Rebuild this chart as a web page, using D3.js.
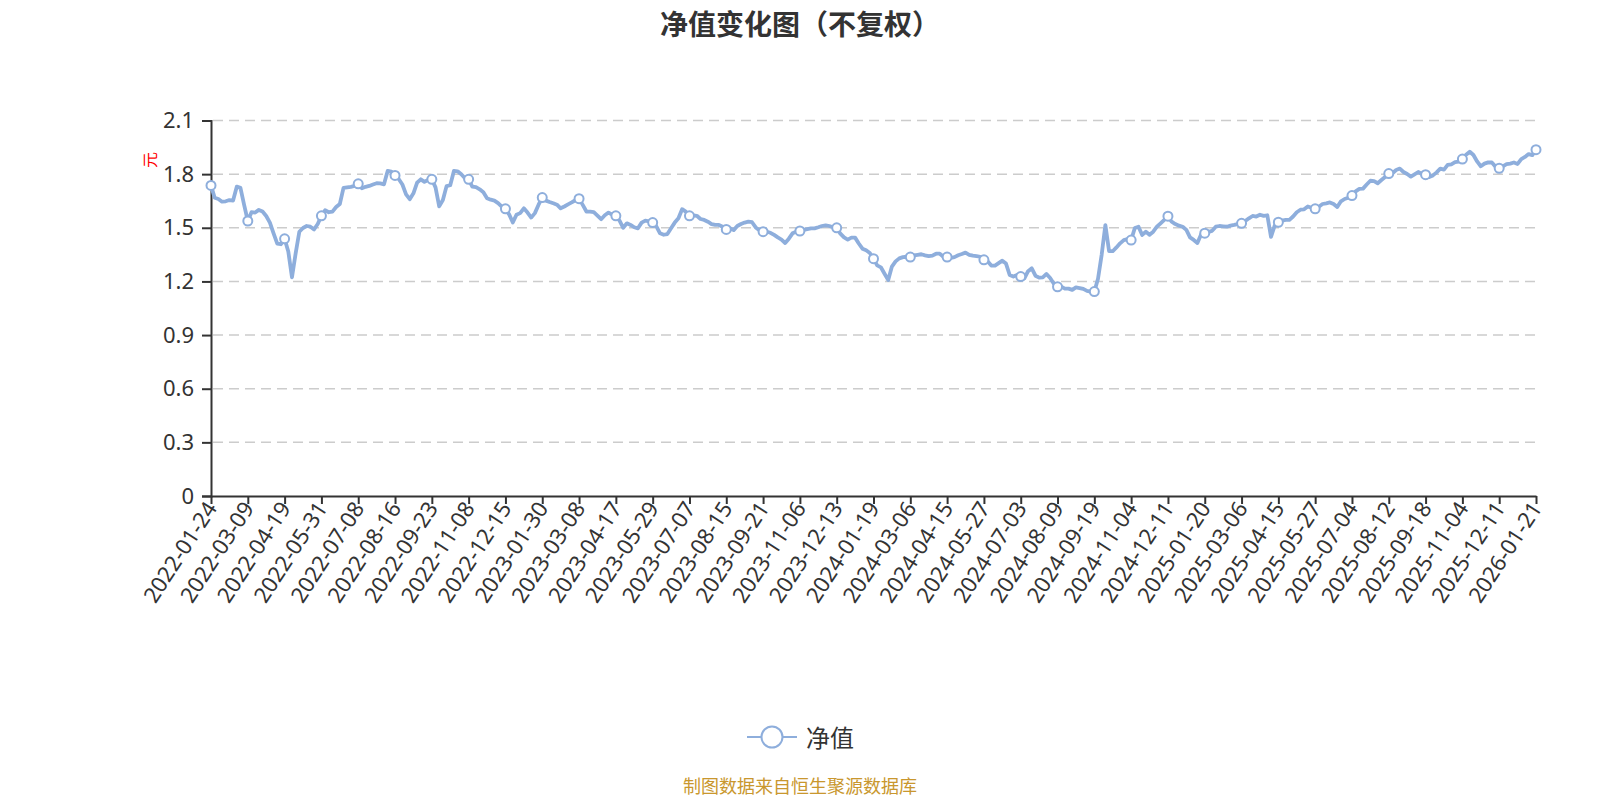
<!DOCTYPE html>
<html>
<head>
<meta charset="utf-8">
<script src="https://cdn.jsdelivr.net/npm/d3@7"></script>
<style>
  body { margin: 0; background: #fff; }
  text { font-family: "Noto Sans", "Noto Sans CJK SC", sans-serif; }
</style>
</head>
<body>
<script>
// Chart dimensions and margins.
const width = 1600;
const height = 800;
const margin = { top: 120.5, right: 64, bottom: 304, left: 211 };

// Axis labels shown under the chart (one every 10 samples).
const tickDates = [
    "2022-01-24", "2022-03-09", "2022-04-19", "2022-05-31", "2022-07-08", "2022-08-16",
    "2022-09-23", "2022-11-08", "2022-12-15", "2023-01-30", "2023-03-08", "2023-04-17",
    "2023-05-29", "2023-07-07", "2023-08-15", "2023-09-21", "2023-11-06", "2023-12-13",
    "2024-01-19", "2024-03-06", "2024-04-15", "2024-05-27", "2024-07-03", "2024-08-09",
    "2024-09-19", "2024-11-04", "2024-12-11", "2025-01-20", "2025-03-06", "2025-04-15",
    "2025-05-27", "2025-07-04", "2025-08-12", "2025-09-18", "2025-11-04", "2025-12-11",
    "2026-01-21"
];
const samplesPerLabel = 10;

// Net value readings, one row per label interval.
const navValues = [
    1.737, 1.668, 1.661, 1.646, 1.648, 1.655, 1.652, 1.730, 1.723, 1.628,
    1.538, 1.587, 1.585, 1.600, 1.591, 1.566, 1.529, 1.469, 1.412, 1.408,
    1.438, 1.367, 1.223, 1.357, 1.478, 1.499, 1.510, 1.506, 1.491, 1.521,
    1.567, 1.598, 1.587, 1.590, 1.616, 1.633, 1.723, 1.726, 1.729, 1.734,
    1.746, 1.721, 1.729, 1.734, 1.742, 1.749, 1.748, 1.743, 1.818, 1.814,
    1.793, 1.773, 1.742, 1.687, 1.660, 1.693, 1.752, 1.771, 1.757, 1.767,
    1.771, 1.726, 1.620, 1.655, 1.733, 1.738, 1.818, 1.816, 1.799, 1.777,
    1.771, 1.730, 1.727, 1.715, 1.699, 1.665, 1.657, 1.652, 1.638, 1.618,
    1.606, 1.575, 1.530, 1.573, 1.582, 1.609, 1.585, 1.557, 1.582, 1.629,
    1.669, 1.652, 1.644, 1.637, 1.629, 1.609, 1.619, 1.631, 1.642, 1.654,
    1.663, 1.628, 1.591, 1.590, 1.587, 1.568, 1.548, 1.570, 1.585, 1.573,
    1.567, 1.540, 1.500, 1.525, 1.516, 1.503, 1.497, 1.529, 1.540, 1.536,
    1.529, 1.508, 1.469, 1.461, 1.465, 1.497, 1.529, 1.553, 1.604, 1.590,
    1.567, 1.570, 1.567, 1.549, 1.544, 1.534, 1.521, 1.516, 1.516, 1.506,
    1.491, 1.497, 1.487, 1.510, 1.521, 1.529, 1.534, 1.531, 1.502, 1.486,
    1.478, 1.478, 1.472, 1.460, 1.446, 1.434, 1.415, 1.439, 1.469, 1.478,
    1.482, 1.488, 1.493, 1.497, 1.497, 1.503, 1.510, 1.514, 1.510, 1.503,
    1.500, 1.467, 1.446, 1.434, 1.445, 1.445, 1.412, 1.383, 1.374, 1.359,
    1.327, 1.290, 1.279, 1.243, 1.208, 1.283, 1.312, 1.329, 1.336, 1.338,
    1.336, 1.346, 1.349, 1.352, 1.346, 1.341, 1.344, 1.355, 1.355, 1.338,
    1.336, 1.331, 1.336, 1.346, 1.353, 1.361, 1.349, 1.344, 1.342, 1.338,
    1.321, 1.313, 1.289, 1.288, 1.302, 1.316, 1.300, 1.236, 1.227, 1.236,
    1.227, 1.217, 1.257, 1.273, 1.232, 1.221, 1.223, 1.242, 1.219, 1.187,
    1.170, 1.171, 1.160, 1.160, 1.153, 1.167, 1.163, 1.158, 1.147, 1.143,
    1.143, 1.215, 1.350, 1.515, 1.370, 1.369, 1.390, 1.413, 1.431, 1.437,
    1.431, 1.499, 1.506, 1.460, 1.478, 1.461, 1.478, 1.506, 1.525, 1.544,
    1.565, 1.534, 1.521, 1.512, 1.506, 1.488, 1.446, 1.432, 1.415, 1.463,
    1.470, 1.477, 1.483, 1.506, 1.510, 1.508, 1.506, 1.512, 1.516, 1.521,
    1.525, 1.538, 1.553, 1.566, 1.563, 1.573, 1.567, 1.570, 1.449, 1.512,
    1.531, 1.540, 1.544, 1.544, 1.563, 1.587, 1.601, 1.603, 1.619, 1.612,
    1.606, 1.618, 1.633, 1.637, 1.642, 1.633, 1.616, 1.648, 1.661, 1.668,
    1.680, 1.704, 1.718, 1.719, 1.742, 1.763, 1.761, 1.749, 1.767, 1.784,
    1.803, 1.805, 1.823, 1.831, 1.812, 1.801, 1.786, 1.799, 1.812, 1.801,
    1.797, 1.784, 1.793, 1.810, 1.831, 1.825, 1.852, 1.855, 1.867, 1.870,
    1.884, 1.909, 1.925, 1.907, 1.871, 1.844, 1.859, 1.866, 1.865, 1.842,
    1.833, 1.844, 1.856, 1.859, 1.865, 1.857, 1.884, 1.896, 1.912, 1.906,
    1.937
];

const yTicks = [0, 0.3, 0.6, 0.9, 1.2, 1.5, 1.8, 2.1];
const lineColor = "#8eaedc";
const textColor = "#333";

const svg = d3.select("body").append("svg")
    .attr("width", width)
    .attr("height", height)
    .style("display", "block");

const x = d3.scaleLinear()
    .domain([0, navValues.length - 1])
    .range([margin.left, width - margin.right]);

const y = d3.scaleLinear()
    .domain([0, 2.1])
    .range([height - margin.bottom, margin.top]);

// Title
svg.append("text")
    .attr("x", width / 2)
    .attr("y", 35)
    .attr("text-anchor", "middle")
    .attr("font-size", 28)
    .attr("font-weight", "bold")
    .attr("fill", textColor)
    .text("净值变化图（不复权）");

// Dashed grid lines
svg.append("g")
    .selectAll("line")
    .data(yTicks.filter(d => d > 0))
    .enter()
    .append("line")
    .attr("x1", margin.left + 2)
    .attr("x2", width - margin.right)
    .attr("y1", d => y(d))
    .attr("y2", d => y(d))
    .attr("stroke", "#ccc")
    .attr("stroke-width", 1.5)
    .attr("stroke-dasharray", "10,6");

// Y axis
const yAxis = svg.append("g")
    .attr("transform", `translate(${margin.left},0)`)
    .call(d3.axisLeft(y).tickValues(yTicks).tickFormat(d => d === 0 ? "0" : d3.format(".1f")(d)).tickSize(9).tickPadding(8));
yAxis.select(".domain").attr("stroke", textColor).attr("stroke-width", 2);
yAxis.selectAll(".tick line").attr("stroke", textColor).attr("stroke-width", 2);
yAxis.selectAll(".tick text").attr("font-size", 22).attr("fill", textColor)
    .attr("font-family", "'Noto Sans', sans-serif");

// Y axis unit
svg.append("text")
    .attr("transform", `translate(150,160) rotate(-90)`)
    .attr("text-anchor", "middle")
    .attr("dominant-baseline", "central")
    .attr("font-size", 16)
    .attr("fill", "red")
    .text("元");

// X axis
const labelIdx = tickDates.map((d, i) => i * samplesPerLabel);
const xAxis = svg.append("g")
    .attr("transform", `translate(0,${height - margin.bottom})`)
    .call(d3.axisBottom(x).tickValues(labelIdx).tickFormat(i => tickDates[i / samplesPerLabel]).tickSize(8).tickSizeOuter(0));
xAxis.select(".domain").attr("stroke", textColor).attr("stroke-width", 2);
xAxis.selectAll(".tick line").attr("stroke", textColor).attr("stroke-width", 2);
xAxis.selectAll(".tick text")
    .attr("font-size", 22)
    .attr("fill", textColor)
    .attr("font-family", "'Noto Sans', sans-serif")
    .attr("text-anchor", "end")
    .attr("dy", "0.35em")
    .attr("transform", "translate(0,8) rotate(-57)")
    .attr("y", 0)
    .attr("x", 0);

// Net value line
const line = d3.line()
    .x((d, i) => x(i))
    .y(d => y(d));

svg.append("path")
    .datum(navValues)
    .attr("fill", "none")
    .attr("stroke", lineColor)
    .attr("stroke-width", 3.8)
    .attr("stroke-linejoin", "round")
    .attr("d", line);

// Symbols at label positions
svg.append("g")
    .selectAll("circle")
    .data(labelIdx)
    .enter()
    .append("circle")
    .attr("cx", i => x(i))
    .attr("cy", i => y(navValues[i]))
    .attr("r", 4.5)
    .attr("fill", "#fff")
    .attr("stroke", lineColor)
    .attr("stroke-width", 2);

// Legend
const legend = svg.append("g").attr("transform", "translate(747,737)");
legend.append("line")
    .attr("x1", 0).attr("x2", 50)
    .attr("stroke", lineColor)
    .attr("stroke-width", 2);
legend.append("circle")
    .attr("cx", 25)
    .attr("r", 10.5)
    .attr("fill", "#fff")
    .attr("stroke", lineColor)
    .attr("stroke-width", 2);
legend.append("text")
    .attr("x", 59)
    .attr("dominant-baseline", "central")
    .attr("font-size", 24)
    .attr("fill", textColor)
    .attr("font-family", "'Noto Sans CJK SC', sans-serif")
    .text("净值");

// Source note
svg.append("text")
    .attr("x", width / 2)
    .attr("y", 793)
    .attr("text-anchor", "middle")
    .attr("font-size", 18)
    .attr("fill", "#c9972e")
    .attr("font-family", "'Noto Sans CJK SC', sans-serif")
    .text("制图数据来自恒生聚源数据库");
</script>
</body>
</html>
